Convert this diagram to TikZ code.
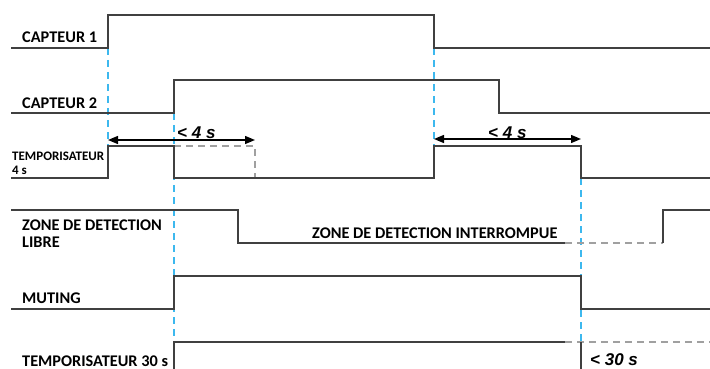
\documentclass[tikz,border=0pt]{standalone}
\usepackage{fontspec}
\setmainfont{Carlito}
\newfontfamily\arialfont{Liberation Sans}
\usetikzlibrary{arrows.meta}
\definecolor{sig}{HTML}{404040}
\definecolor{guide}{HTML}{3DB8EE}
\definecolor{ghost}{HTML}{A0A0A0}
\begin{document}
\begin{tikzpicture}[x=1pt,y=-1pt,
  signal/.style={draw=sig,line width=1.6pt,line join=miter},
  ghostline/.style={draw=ghost,line width=1.4pt,dash pattern=on 7pt off 5pt},
  guideline/.style={draw=guide,line width=1.5pt,dash pattern=on 7pt off 5pt},
  dimarrow/.style={draw=black,line width=1.4pt,{Triangle[length=10pt,width=8pt]}-{Triangle[length=10pt,width=8pt]}},
  lab/.style={anchor=base west,inner sep=0pt,font=\bfseries\fontsize{16.3}{18}\selectfont},
  smalllab/.style={anchor=base west,inner sep=0pt,font=\bfseries\fontsize{13}{15}\selectfont},
  timelab/.style={anchor=base west,inner sep=0pt,font=\arialfont\bfseries\itshape\fontsize{17}{19}\selectfont}]
\useasboundingbox (0,0) rectangle (710,369);

% guide lines
\draw[guideline] (108,48) -- (108,147);
\draw[guideline] (174,113) -- (174,342);
\draw[guideline] (434,48) -- (434,147);
\draw[guideline] (581,178) -- (581,342);

% CAPTEUR 1
\draw[signal] (11,48) -- (108,48) -- (108,15) -- (434,15) -- (434,48) -- (710,48);
% CAPTEUR 2
\draw[signal] (11,113) -- (174,113) -- (174,80) -- (499,80) -- (499,113) -- (710,113);
% TEMPORISATEUR 4 s
\draw[ghostline] (174,146) -- (255,146) -- (255,178);
\draw[signal] (11,178) -- (108,178) -- (108,146) -- (174,146) -- (174,178) -- (434,178) -- (434,146) -- (581,146) -- (581,178) -- (710,178);
% ZONE DE DETECTION
\draw[signal] (11,210) -- (238,210) -- (238,243) -- (565,243);
\draw[ghostline] (565,243) -- (663,243);
\draw[signal] (663,243) -- (663,210) -- (710,210);
% MUTING
\draw[signal] (11,309) -- (174,309) -- (174,276) -- (581,276) -- (581,309) -- (710,309);
% TEMPORISATEUR 30 s
\draw[signal] (174,369) -- (174,342) -- (565,342);
\draw[ghostline] (565,342) -- (710,342);
\draw[signal] (581,342) -- (581,369);

% dimension arrows
\coordinate (a1) at (108,140);
\coordinate (b1) at (255,140);
\coordinate (a2) at (434,139);
\coordinate (b2) at (581,139);
\draw[dimarrow] (a1) -- (b1);
\draw[dimarrow] (a2) -- (b2);

% labels
\node[lab] (c1) at (22,43) {CAPTEUR 1};
\node[lab] (c2) at (22,108) {CAPTEUR 2};
\node[smalllab] (t4a) at (12,160) {TEMPORISATEUR};
\node[smalllab] (t4b) at (12,174) {4 s};
\node[lab] (z1) at (22,230) {ZONE DE DETECTION};
\node[lab] (z2) at (22,247) {LIBRE};
\node[lab] (zi) at (312,238) {ZONE DE DETECTION INTERROMPUE};
\node[lab] (mu) at (22,303) {MUTING};
\node[lab] (t30) at (22,366) {TEMPORISATEUR 30 s};
\node[timelab] (d1) at (177,138) {< 4 s};
\node[timelab] (d2) at (488,138) {< 4 s};
\node[timelab] (d3) at (590,365) {< 30 s};
\end{tikzpicture}
\end{document}
